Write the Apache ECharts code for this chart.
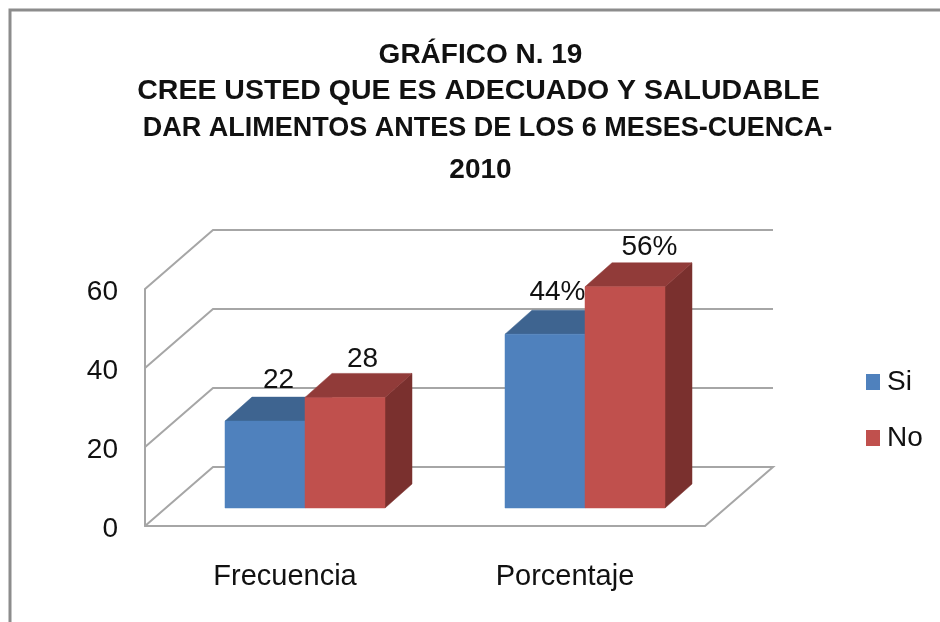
<!DOCTYPE html>
<html>
<head>
<meta charset="utf-8">
<style>html,body{margin:0;padding:0;background:#fff}#c{width:940px;height:622px}</style>
<script src="https://cdn.jsdelivr.net/npm/echarts@6/dist/echarts.min.js"></script>
</head>
<body>
<div id="c"></div>
<script>
const titleLines = ['GRÁFICO N. 19', 'CREE USTED QUE ES ADECUADO Y SALUDABLE', 'DAR ALIMENTOS ANTES DE LOS 6 MESES-CUENCA-', '2010'];
const categories = ['Frecuencia', 'Porcentaje'];
const siValues = [22, 44];
const noValues = [28, 56];
const siLabels = ['22', '44%'];
const noLabels = ['28', '56%'];
const yTicks = [0, 20, 40, 60];

const FONT = '"Liberation Sans", Arial, sans-serif';
const WALL = {dx: 68, dy: -59};
const BAR = {dx: 27, dy: -24, width: 80, shiftX: 20, shiftY: -18};
const GRID_COLOR = '#a6a6a6';
const SI_LABEL_NUDGE = [[0, 2], [-1, 1]];
const NO_LABEL_NUDGE = [[4, 5], [11, 3]];

function wallItem(params, api) {
  const v = api.value(0);
  const cs = params.coordSys;
  const y = api.coord([0, v])[1];
  const x0 = cs.x, x1 = cs.x + cs.width;
  const pts = [[x0, y], [x0 + WALL.dx, y + WALL.dy], [x1 + WALL.dx, y + WALL.dy]];
  if (v === 0) pts.push([x1, y]);
  return {type: 'polyline', shape: {points: pts}, style: {stroke: GRID_COLOR, fill: 'none', lineWidth: 2}};
}

function barItem(colors, labels, side, nudge) {
  return function (params, api) {
    const p = api.coord([api.value(0), api.value(1)]);
    const z = api.coord([api.value(0), 0]);
    const l = p[0] + BAR.shiftX + (side < 0 ? -BAR.width : 0);
    const r = l + BAR.width;
    const t = p[1] + BAR.shiftY, b = z[1] + BAR.shiftY;
    const dx = BAR.dx, dy = BAR.dy;
    const n = nudge[params.dataIndex];
    const poly = (pts, fill) => ({type: 'polygon', shape: {points: pts}, style: {fill: fill, stroke: fill, lineWidth: 0.5}});
    return {type: 'group', children: [
      poly([[r, b], [r + dx, b + dy], [r + dx, t + dy], [r, t]], colors.side),
      poly([[l, t], [l + dx, t + dy], [r + dx, t + dy], [r, t]], colors.top),
      poly([[l, b], [r, b], [r, t], [l, t]], colors.front),
      {type: 'text', style: {text: labels[params.dataIndex], x: (l + r + dx) / 2 + n[0], y: t + dy - 5 + n[1],
        align: 'center', verticalAlign: 'bottom', fontFamily: FONT, fontSize: 28, fill: '#111'}}
    ]};
  };
}

const titleBase = {fontFamily: FONT, fontWeight: 'bold', color: '#111', align: 'center'};
const chart = echarts.init(document.getElementById('c'), null, {renderer: 'canvas'});
chart.setOption({
  animation: false,
  backgroundColor: '#fff',
  title: {
    text: '{a|' + titleLines[0] + '}\n{b|' + titleLines[1] + '}\n{c|' + titleLines[2] + '}\n{d|' + titleLines[3] + '}',
    left: 475.5, top: 32, textAlign: 'center',
    textStyle: {
      fontFamily: FONT, fontWeight: 'bold', fontSize: 28, color: '#111',
      rich: {
        a: {...titleBase, fontSize: 28, lineHeight: 36},
        b: {...titleBase, fontSize: 28.5, lineHeight: 36, padding: [0, 4, 0, 0]},
        c: {...titleBase, fontSize: 27, lineHeight: 40, padding: [0, 0, 0, 14]},
        d: {...titleBase, fontSize: 28, lineHeight: 42}
      }
    }
  },
  legend: {
    orient: 'vertical', left: 861, top: 363, itemWidth: 14, itemHeight: 16, itemGap: 28,
    icon: 'rect', data: ['Si', 'No'],
    textStyle: {fontFamily: FONT, fontSize: 28, color: '#111', padding: [0, 0, 0, 2]}
  },
  grid: {left: 145, top: 289, width: 560, height: 237},
  xAxis: {
    type: 'category', data: categories,
    axisLine: {lineStyle: {color: GRID_COLOR, width: 2}}, axisTick: {show: false},
    axisLabel: {fontFamily: FONT, fontSize: 29, color: '#111', margin: 36}
  },
  yAxis: {
    type: 'value', min: 0, max: 60, interval: 20, splitLine: {show: false},
    axisLine: {show: true, lineStyle: {color: GRID_COLOR, width: 2}}, axisTick: {show: false},
    axisLabel: {
      color: '#111', margin: 27, formatter: '{n|{value}}',
      rich: {n: {fontFamily: FONT, fontSize: 28, color: '#111', padding: [6, 0, 0, 0]}}
    }
  },
  graphic: [{
    type: 'polyline', silent: true, shape: {points: [[10, 622], [10, 10], [940, 10]]},
    style: {stroke: '#8c8c8c', lineWidth: 3, fill: 'none'}
  }],
  series: [
    {type: 'custom', name: 'walls', coordinateSystem: 'cartesian2d', clip: false, silent: true, z: 1,
     data: yTicks.map(v => [v]), encode: {y: 0}, renderItem: wallItem},
    {type: 'custom', name: 'Si', coordinateSystem: 'cartesian2d', clip: false, z: 2,
     itemStyle: {color: '#4F81BD'},
     data: categories.map((c, i) => [i, siValues[i]]), encode: {x: 0, y: 1},
     renderItem: barItem({front: '#4F81BD', top: '#3E6490', side: '#345478'}, siLabels, -1, SI_LABEL_NUDGE)},
    {type: 'custom', name: 'No', coordinateSystem: 'cartesian2d', clip: false, z: 3,
     itemStyle: {color: '#C0504D'},
     data: categories.map((c, i) => [i, noValues[i]]), encode: {x: 0, y: 1},
     renderItem: barItem({front: '#C0504D', top: '#913B39', side: '#7A302E'}, noLabels, 1, NO_LABEL_NUDGE)}
  ]
});
</script>
</body>
</html>
